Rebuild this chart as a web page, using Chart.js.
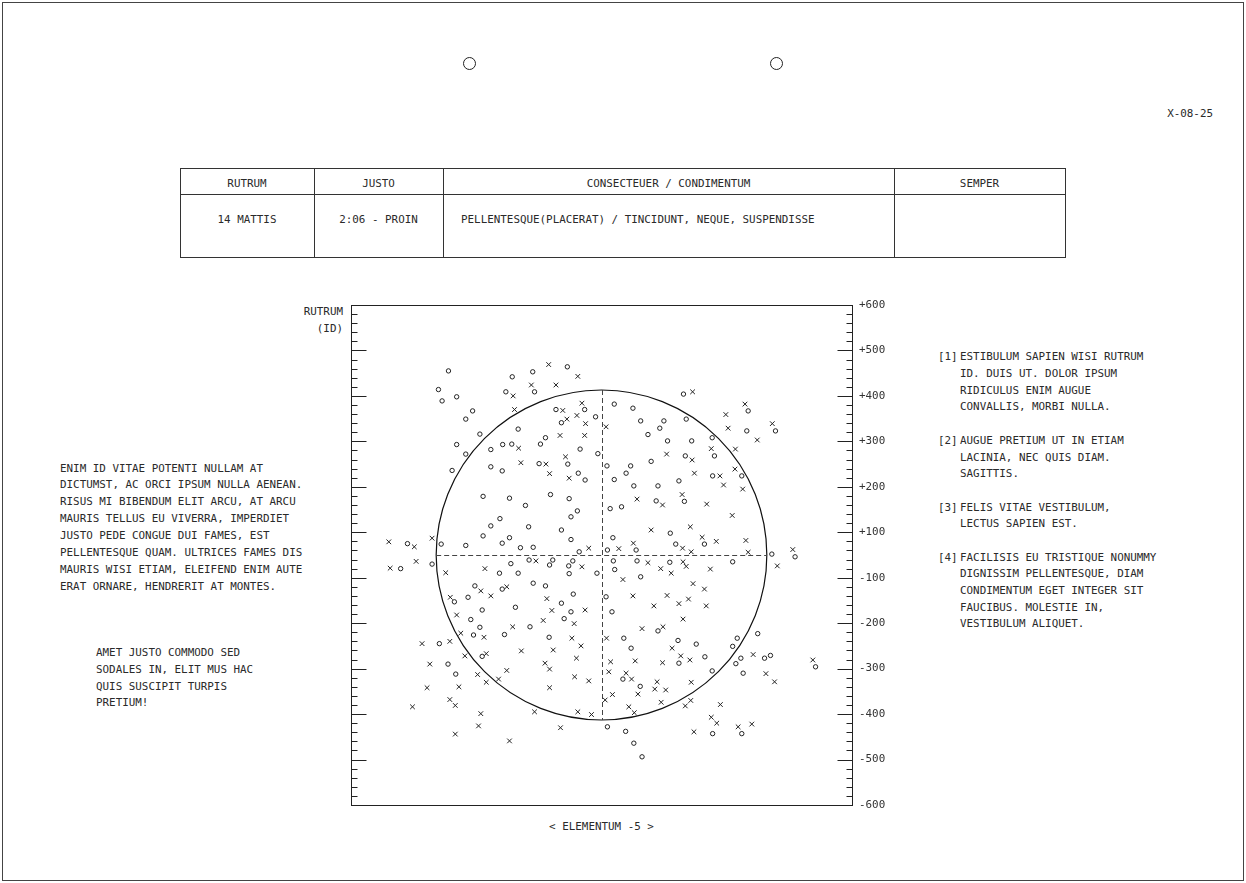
<!DOCTYPE html>
<html>
<head>
<meta charset="utf-8">
<script src="https://cdn.jsdelivr.net/npm/chart.js@4.4.1/dist/chart.umd.min.js"></script>
<style>
  html, body { margin: 0; padding: 0; background: #fff; }
  body { width: 1246px; height: 883px; position: relative; overflow: hidden;
         font-family: 'DejaVu Sans Mono', monospace; font-size: 10.88px; color: #2a2a2a; }
  #c { position: absolute; left: 0; top: 0; }
  .abs { position: absolute; white-space: pre; line-height: 16.8px; }
  .frame { position: absolute; left: 2px; top: 2px; width: 1242px; height: 879px; box-sizing: border-box; border: 1px solid #444; }
  .ring { position: absolute; width: 13px; height: 13px; box-sizing: border-box; border: 1px solid #222; border-radius: 50%; }
  .tbl { position: absolute; left: 180px; top: 168px; width: 886px; height: 90px; box-sizing: border-box; border: 1px solid #333; }
  .vl { position: absolute; top: 168px; width: 1px; height: 90px; background: #333; }
  .hl { position: absolute; left: 180px; top: 194px; width: 886px; height: 1px; background: #333; }
  .cell { position: absolute; text-align: center; line-height: 16.8px; white-space: pre; }
</style>
</head>
<body>
<div class="frame"></div>
<div class="ring" style="left:463px; top:57px;"></div>
<div class="ring" style="left:770px; top:57px;"></div>
<div class="abs" style="right:33px; top:106px;">X-08-25</div>

<div class="tbl"></div>
<div class="vl" style="left:314px;"></div>
<div class="vl" style="left:443px;"></div>
<div class="vl" style="left:894px;"></div>
<div class="hl"></div>
<div class="cell" style="left:180px; width:134px; top:175.6px;">RUTRUM</div>
<div class="cell" style="left:314px; width:129px; top:175.6px;">JUSTO</div>
<div class="cell" style="left:443px; width:451px; top:175.6px;">CONSECTEUER / CONDIMENTUM</div>
<div class="cell" style="left:894px; width:171px; top:175.6px;">SEMPER</div>
<div class="cell" style="left:180px; width:134px; top:211.6px;">14 MATTIS</div>
<div class="cell" style="left:314px; width:129px; top:211.6px;">2:06 - PROIN</div>
<div class="cell" style="left:461px; top:211.6px; text-align:left;">PELLENTESQUE(PLACERAT) / TINCIDUNT, NEQUE, SUSPENDISSE</div>

<div class="abs" style="right:903px; top:303px; text-align:right; line-height:17px;">RUTRUM
(ID)</div>
<div class="abs" style="left:451.5px; width:300px; text-align:center; top:819px;">&lt; ELEMENTUM -5 &gt;</div>

<div class="abs" style="left:60px; top:460.6px; line-height:16.85px;">ENIM ID VITAE POTENTI NULLAM AT
DICTUMST, AC ORCI IPSUM NULLA AENEAN.
RISUS MI BIBENDUM ELIT ARCU, AT ARCU
MAURIS TELLUS EU VIVERRA, IMPERDIET
JUSTO PEDE CONGUE DUI FAMES, EST
PELLENTESQUE QUAM. ULTRICES FAMES DIS
MAURIS WISI ETIAM, ELEIFEND ENIM AUTE
ERAT ORNARE, HENDRERIT AT MONTES.</div>

<div class="abs" style="left:96px; top:645.2px; line-height:16.7px;">AMET JUSTO COMMODO SED
SODALES IN, ELIT MUS HAC
QUIS SUSCIPIT TURPIS
PRETIUM!</div>

<div class="abs" style="left:938px; top:349.4px; line-height:16.69px;">[1]




[2]



[3]


[4]</div>
<div class="abs" style="left:960px; top:349.4px; line-height:16.69px;">ESTIBULUM SAPIEN WISI RUTRUM
ID. DUIS UT. DOLOR IPSUM
RIDICULUS ENIM AUGUE
CONVALLIS, MORBI NULLA.

AUGUE PRETIUM UT IN ETIAM
LACINIA, NEC QUIS DIAM.
SAGITTIS.

FELIS VITAE VESTIBULUM,
LECTUS SAPIEN EST.

FACILISIS EU TRISTIQUE NONUMMY
DIGNISSIM PELLENTESQUE, DIAM
CONDIMENTUM EGET INTEGER SIT
FAUCIBUS. MOLESTIE IN,
VESTIBULUM ALIQUET.</div>

<canvas id="c" width="1246" height="883"></canvas>

<script>
// ---- data ----
const CIRCLE_X = [-336,-196,-358,-210,-318,-350,-283,-298,-183,-267,-318,-217,-197,-298,-243,-243,-218,-328,
-151,-75,-147,-37,-100,-13,-88,28,69,86,137,128,102,145,-123,-134,-47,-8,-137,-74,-51,-36,12,64,54,109,28,71,124,
180,186,322,319,382,198,243,184,248,244,308,170,
-260,-202,-167,-223,-243,-260,-202,-218,-178,-426,-352,-298,-441,-372,-199,-224,-183,-278,-218,-293,-323,-262,-189,-287,-267,
-112,-71,-53,-67,-160,-88,-67,-150,-49,19,44,120,25,151,13,76,-159,-107,-114,-63,-72,-71,-10,26,78,150,29,86,-150,-123,-62,10,-88,-67,23,-82,-157,
182,163,226,288,374,425,
-356,-281,-213,-337,-320,-262,
-115,49,65,124,47,85,13,53,71,89,
168,208,298,343,288,227,170,306,295,358,371,243,311,470,244,308];
const CIRCLE_Y = [405,392,364,359,348,339,317,299,277,266,243,243,244,222,232,194,185,186,
403,414,359,320,320,304,291,332,323,295,295,279,265,251,258,244,233,223,201,200,180,165,196,196,180,206,166,152,152,
354,299,317,273,273,251,258,218,218,174,174,163,
129,125,109,80,64,42,38,26,16,25,24,21,-30,-20,-19,-40,-40,-68,-75,-93,-103,-121,-115,-142,-159,
133,124,97,84,62,55,34,17,7,102,106,119,38,48,11,11,-11,-11,-22,-13,-24,-41,-40,-13,-13,-16,-32,-48,-62,-68,-86,-92,-106,-125,-125,-140,-158,
118,24,24,-15,2,-4,
-195,-176,-175,-240,-262,-223,
-181,-183,-205,-167,-273,-289,-378,-388,-414,-444,
-188,-196,-183,-173,-201,-224,-238,-227,-239,-227,-221,-255,-260,-246,-393,-393];

const CROSS_X = [-194,-191,-182,-177,
-116,-52,-154,-100,-43,-85,-76,-54,-35,10,-91,-37,-79,-122,-114,-71,143,
200,315,273,278,375,342,241,294,199,204,260,293,268,310,
-467,-411,-372,-407,-464,-342,-256,-265,-243,-208,-332,-318,-195,
78,134,109,70,38,-28,-144,-43,102,130,153,47,69,144,115,-120,-109,-36,-128,-60,89,135,
177,231,287,195,221,252,317,178,197,322,179,186,239,420,386,201,226,191,170,230,179,
-309,-258,-394,-333,-300,-253,-176,-377,-208,-272,-226,-253,-383,-313,-333,-321,-415,-265,-270,-321,-202,
-65,11,-45,-106,-55,-124,-114,20,74,134,16,54,66,-59,-28,-114,122,117,141,80,24,8,131,60,72,-52,-22,-147,-90,155,
174,194,333,361,380,197,464,196,184,261,241,253,203,300,330];
const CROSS_Y = [350,320,235,203,
419,393,374,374,334,318,299,307,289,282,263,263,216,200,179,169,222,
359,332,309,279,289,253,234,233,209,180,174,189,154,145,
29,18,37,-14,-29,-39,-30,-79,-90,-70,-93,-132,-158,
123,110,55,26,14,15,-13,-26,-17,-30,-40,-54,-90,-89,-112,-96,-122,-121,-144,-151,-162,-158,
133,112,87,62,39,30,32,15,7,6,-15,-25,-31,12,-24,-63,-75,-97,-107,-112,-141,
-172,-181,-195,-190,-222,-217,-211,-240,-254,-263,-273,-280,-292,-290,-318,-331,-334,-349,-376,-394,-409,
-183,-183,-200,-209,-227,-238,-251,-235,-233,-237,-257,-260,-273,-268,-277,-292,-279,-295,-297,-306,-307,-319,-324,-334,-347,-345,-351,-345,-380,-205,
-222,-231,-219,-261,-279,-280,-231,-320,-332,-329,-357,-370,-389,-378,-372];

const Y_TICK_VALUES = [-550,-450,-350,-250,-150,-50,50,150,250,350,450,550];
const Y_TICK_LABELS = ['-600','-500','-400','-300','-200','-100','+100','+200','+300','+400','+500','+600'];
const AXIS_MIN = -550, AXIS_MAX = 550, MINOR_STEP = 20, MAJOR_STEP = 100;
const CIRCLE_RADIUS = 363;

// ---- drawing ----
const INK = '#222';
const decorPlugin = {
  id: 'decor',
  beforeDatasetsDraw(chart) {
    const {ctx, chartArea: a, scales: {x, y}} = chart;
    ctx.save();
    ctx.strokeStyle = INK;
    ctx.lineWidth = 1;
    const L = Math.round(a.left) + 0.5, R = Math.round(a.right) + 0.5;
    const T = Math.round(a.top) + 0.5, B = Math.round(a.bottom) + 0.5;
    ctx.strokeRect(L, T, R - L, B - T);
    ctx.beginPath();
    for (let v = AXIS_MIN; v <= AXIS_MAX + 0.001; v += MINOR_STEP) {
      const major = ((v - AXIS_MIN) % MAJOR_STEP) === 0;
      const len = major ? 15 : 6;
      const py = Math.round(y.getPixelForValue(v)) + 0.5;
      ctx.moveTo(L, py); ctx.lineTo(L + len, py);
      ctx.moveTo(R, py); ctx.lineTo(R - len, py);
    }
    ctx.stroke();
    const cx = x.getPixelForValue(0), cy = y.getPixelForValue(0);
    const rx = x.getPixelForValue(CIRCLE_RADIUS) - cx;
    const ry = cy - y.getPixelForValue(CIRCLE_RADIUS);
    ctx.lineWidth = 1.2;
    ctx.strokeStyle = '#111';
    ctx.beginPath();
    ctx.ellipse(cx, cy, rx, ry, 0, 0, Math.PI * 2);
    ctx.stroke();
    ctx.lineWidth = 1;
    ctx.strokeStyle = '#444';
    ctx.setLineDash([5, 3]);
    ctx.beginPath();
    const vx = Math.round(cx) + 0.5, hy = Math.round(cy) + 0.5;
    ctx.moveTo(vx, y.getPixelForValue(CIRCLE_RADIUS));
    ctx.lineTo(vx, y.getPixelForValue(-CIRCLE_RADIUS));
    ctx.moveTo(x.getPixelForValue(-CIRCLE_RADIUS), hy);
    ctx.lineTo(x.getPixelForValue(CIRCLE_RADIUS), hy);
    ctx.stroke();
    ctx.restore();
  }
};

const circles = CIRCLE_X.map((v, i) => ({x: v, y: CIRCLE_Y[i]}));
const crosses = CROSS_X.map((v, i) => ({x: v, y: CROSS_Y[i]}));

new Chart(document.getElementById('c'), {
  type: 'scatter',
  data: {
    datasets: [
      { data: circles, pointStyle: 'circle', pointRadius: 2.2, borderWidth: 1,
        borderColor: INK, backgroundColor: 'rgba(0,0,0,0)' },
      { data: crosses, pointStyle: 'crossRot', pointRadius: 3.3, borderWidth: 1,
        borderColor: INK, backgroundColor: 'rgba(0,0,0,0)' }
    ]
  },
  options: {
    responsive: false,
    devicePixelRatio: 1,
    animation: false,
    events: [],
    layout: { padding: { left: 351, top: 305, bottom: 78, right: 334 } },
    plugins: { legend: { display: false }, tooltip: { enabled: false } },
    scales: {
      x: { type: 'linear', min: AXIS_MIN, max: AXIS_MAX, display: false },
      y: {
        type: 'linear', position: 'right', min: AXIS_MIN, max: AXIS_MAX,
        grid: { display: false, drawTicks: false },
        border: { display: false },
        afterBuildTicks: s => { s.ticks = Y_TICK_VALUES.map(v => ({ value: v })); },
        afterFit: s => { s.width = 60; },
        ticks: {
          autoSkip: false, padding: 7, color: '#333',
          font: { family: 'DejaVu Sans Mono', size: 10.88 },
          callback: (val, idx) => Y_TICK_LABELS[idx]
        }
      }
    }
  },
  plugins: [decorPlugin]
});
</script>
</body>
</html>
